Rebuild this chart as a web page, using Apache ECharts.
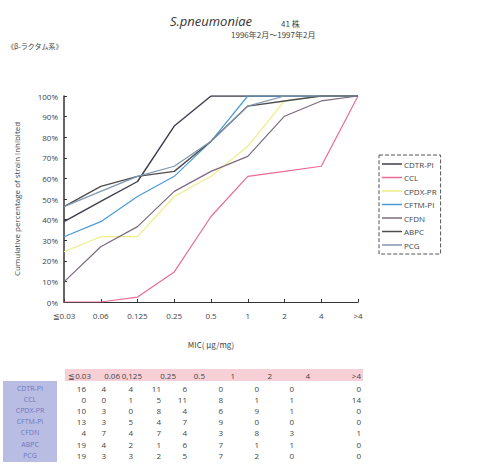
<!DOCTYPE html>
<html><head><meta charset="utf-8">
<script src="https://cdn.jsdelivr.net/npm/echarts@6/dist/echarts.min.js"></script>
<style>html,body{margin:0;padding:0;background:#fff}#c{width:485px;height:468px}</style>
</head><body><div id="c"></div>
<script>
// ---- data ----
const categories = ['≦0.03','0.06','0.125','0.25','0.5','1','2','4','>4'];
const tableHeader = ['≦0.03','0.06','0,125','0.25','0.5','1','2','4','>4'];
const seriesNames = ['CDTR-PI','CCL','CPDX-PR','CFTM-PI','CFDN','ABPC','PCG'];
// cumulative % of strains inhibited
const cdtrPct = [39.0, 48.8, 58.5, 85.4, 100, 100, 100, 100, 100];
const cclPct  = [0, 0, 2.4, 14.6, 41.5, 61.0, 63.4, 65.9, 100];
const cpdxPct = [24.4, 31.7, 31.7, 51.2, 61.0, 75.6, 97.6, 100, 100];
const cftmPct = [31.7, 39.0, 51.2, 61.0, 78.0, 100, 100, 100, 100];
const cfdnPct = [9.8, 26.8, 36.6, 53.7, 63.4, 70.7, 90.2, 97.6, 100];
const abpcPct = [46.3, 56.1, 61.0, 63.4, 78.0, 95.1, 97.6, 100, 100];
const pcgPct  = [46.3, 53.7, 61.0, 65.9, 78.0, 95.1, 100, 100, 100];
// strain counts (table)
const cdtrN = [16, 4, 4, 11, 6, 0, 0, 0, 0];
const cclN  = [0, 0, 1, 5, 11, 8, 1, 1, 14];
const cpdxN = [10, 3, 0, 8, 4, 6, 9, 1, 0];
const cftmN = [13, 3, 5, 4, 7, 9, 0, 0, 0];
const cfdnN = [4, 7, 4, 7, 4, 3, 8, 3, 1];
const abpcN = [19, 4, 2, 1, 6, 7, 1, 1, 0];
const pcgN  = [19, 3, 3, 2, 5, 7, 2, 0, 0];

// ---- styles / layout ----
const colors = ['#3c3d4e','#ea6b93','#f0ec86','#4a9bd6','#7c6a7e','#4e4e52','#7f97ae'];
const pctData = [cdtrPct, cclPct, cpdxPct, cftmPct, cfdnPct, abpcPct, pcgPct];
const countData = [cdtrN, cclN, cpdxN, cftmN, cfdnN, abpcN, pcgN];
const hdrRight = [91, 120, 142, 176, 205, 235, 272, 310, 361];
const valRight = [86, 106, 133, 161, 187, 223, 259, 294, 361];
const rowY0 = 388.5, rowH = 11.1, hdrY = 375;
const jpFont = '"Noto Sans CJK JP", "Noto Sans", sans-serif';
const baseFont = '"Open Sans", "Noto Sans", sans-serif';

const chart = echarts.init(document.getElementById('c'), null, {renderer: 'svg'});

const graphics = [
  {type:'text', left:170, top:14, style:{text:'S.pneumoniae', font:'italic 13px ' + baseFont, fill:'#333'}},
  {type:'text', left:281, top:19, style:{text:'41 株', font:'8px ' + jpFont, fill:'#444'}},
  {type:'text', left:231, top:30, style:{text:'1996年2月～1997年2月', font:'8px ' + jpFont, fill:'#444'}},
  {type:'text', left:7, top:42, style:{text:'《β-ラクタム系》', font:'7px ' + jpFont, fill:'#444'}},
  {type:'rect', shape:{x:65, y:369, width:298, height:12}, style:{fill:'#f7d0d7'}},
  {type:'rect', shape:{x:3, y:381, width:54, height:81}, style:{fill:'#babde3'}}
];
tableHeader.forEach((h, i) => {
  graphics.push({type:'text', x:hdrRight[i], y:hdrY, style:{text:h, font:'8px ' + baseFont, fill:'#444', align:'right', verticalAlign:'middle'}});
});
seriesNames.forEach((n, r) => {
  const y = rowY0 + r * rowH;
  graphics.push({type:'text', x:30, y:y, style:{text:n, font:'7px ' + baseFont, fill:'#6a78c0', align:'center', verticalAlign:'middle'}});
  countData[r].forEach((v, i) => {
    graphics.push({type:'text', x:valRight[i], y:y, style:{text:String(v), font:'8px ' + baseFont, fill:'#444', align:'right', verticalAlign:'middle'}});
  });
});

chart.setOption({
  animation: false,
  color: colors,
  textStyle: {fontFamily: baseFont},
  grid: {left:64, right:127, top:96, bottom:166},
  legend: {
    orient:'vertical', left:379, top:155, width:60,
    padding:[5,4,5,3], itemGap:5.5, itemWidth:20, itemHeight:1.5,
    icon:'rect',
    borderColor:'#555', borderWidth:1, borderType:'dashed',
    textStyle:{fontSize:8, color:'#444', padding:[0,0,0,-3]},
    data: seriesNames
  },
  xAxis: {
    type:'category', data:categories, boundaryGap:false,
    name:'MIC( μg/mg)', nameLocation:'middle', nameGap:38,
    nameTextStyle:{fontSize:8, color:'#444', fontFamily: jpFont},
    axisLine:{lineStyle:{color:'#333', width:1.2}},
    axisTick:{inside:true, length:3, lineStyle:{color:'#333'}},
    axisLabel:{fontSize:8, color:'#444', margin:9}
  },
  yAxis: {
    type:'value', min:0, max:100, interval:10,
    name:'Cumulative percentage of strain inhibited', nameLocation:'middle', nameGap:44, nameRotate:90,
    nameTextStyle:{fontSize:8, color:'#444'},
    axisLine:{show:true, lineStyle:{color:'#333', width:1.5}},
    axisTick:{show:true, inside:true, length:3, lineStyle:{color:'#333'}},
    splitLine:{show:false},
    axisLabel:{fontSize:8, color:'#444', margin:6, formatter: v => v + '%'}
  },
  series: seriesNames.map((n, i) => ({
    name:n, type:'line', data:pctData[i], symbol:'none',
    lineStyle:{width: (i===0||i===5) ? 1.4 : 1.2, color: colors[i]}
  })),
  graphic: graphics
});
</script></body></html>
